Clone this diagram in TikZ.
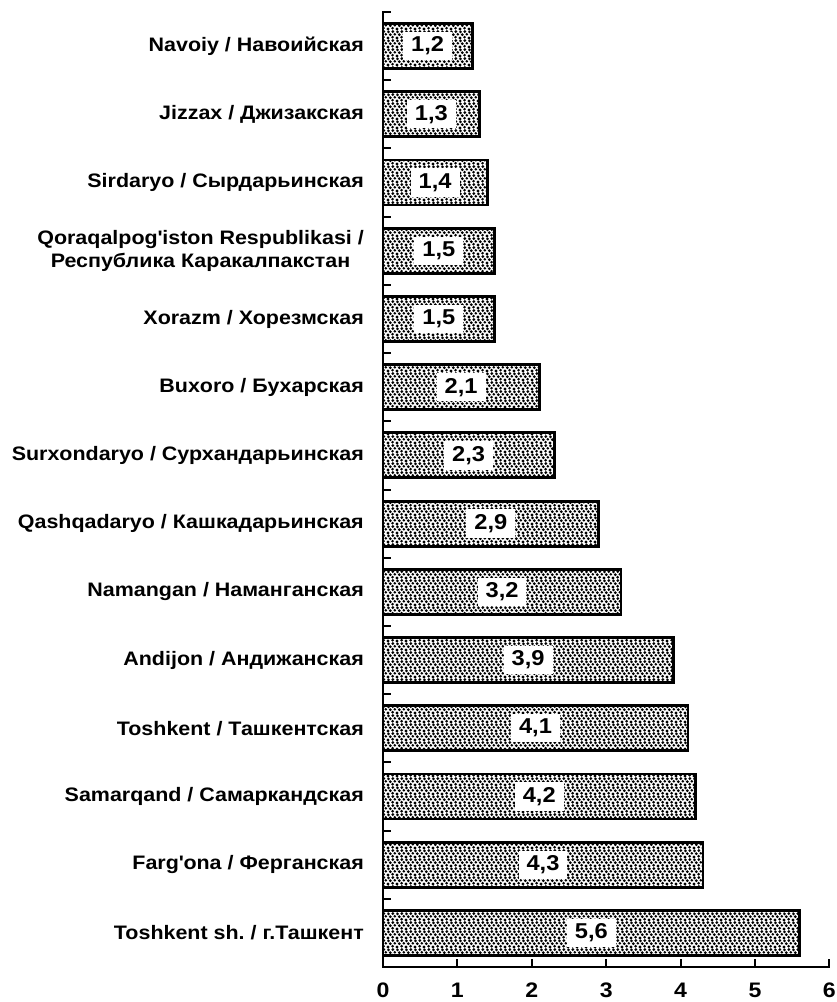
\documentclass[tikz,border=0pt]{standalone}
\usepackage{fontspec}
\setmainfont{Liberation Sans}[FakeStretch=1.1]
\usetikzlibrary{patterns}
\frenchspacing
\pgfdeclarepatternformonly{speckle}{\pgfqpoint{-2pt}{-2pt}}{\pgfqpoint{11pt}{11pt}}{\pgfqpoint{9pt}{9pt}}{%
  \pgfpathcircle{\pgfqpoint{1pt}{1pt}}{1.55pt}%
  \pgfpathcircle{\pgfqpoint{5.6pt}{1.8pt}}{1.45pt}%
  \pgfpathcircle{\pgfqpoint{3.3pt}{4.3pt}}{1.55pt}%
  \pgfpathcircle{\pgfqpoint{7.8pt}{4.7pt}}{1.45pt}%
  \pgfpathcircle{\pgfqpoint{1.5pt}{7.1pt}}{1.45pt}%
  \pgfpathcircle{\pgfqpoint{5.8pt}{7.4pt}}{1.55pt}%
  \pgfusepath{fill}}
\tikzset{
  barnode/.style={draw=black, line width=2.8pt, pattern=speckle, pattern color=black,
    anchor=west, minimum height=45pt, inner sep=0pt, outer sep=0pt},
  valbox/.style={fill=white, inner xsep=8pt, inner ysep=5pt, font=\bfseries\fontsize{21.5}{24}\selectfont},
  labtext/.style={anchor=east, align=center, inner sep=0pt, font=\bfseries\fontsize{19.5}{22.5}\selectfont},
  axisline/.style={line width=2pt, line cap=rect},
  ticknum/.style={font=\bfseries\fontsize{21}{24}\selectfont, inner sep=0pt}
}
\newcommand\mkbar[4]{%
  \pgfmathsetmacro\yc{12+68.214*(#1+0.5)}%
  \pgfmathsetmacro\bw{74.4*#2}%
  \node[barnode, minimum width=\bw pt] (bar#1) at (383,\yc) {};
  \node[valbox] (val#1) at (bar#1.center) {#3};
  \node[labtext] (lab#1) at (364,\yc) {#4};
}
\begin{document}
\begin{tikzpicture}[x=1pt,y=-1pt]
\useasboundingbox (0,0) rectangle (836,1002);
\fill[white] (0,0) rectangle (836,1002);
\mkbar{0}{1.2}{1,2}{Navoiy / Навоийская}
\mkbar{1}{1.3}{1,3}{Jizzax / Джизакская}
\mkbar{2}{1.4}{1,4}{Sirdaryo / Сырдарьинская}
\mkbar{3}{1.5}{1,5}{Qoraqalpog\textquotesingle iston Respublikasi /\\Республика Каракалпакстан}
\mkbar{4}{1.5}{1,5}{Xorazm / Хорезмская}
\mkbar{5}{2.1}{2,1}{Buxoro / Бухарская}
\mkbar{6}{2.3}{2,3}{Surxondaryo / Сурхандарьинская}
\mkbar{7}{2.9}{2,9}{Qashqadaryo / Кашкадарьинская}
\mkbar{8}{3.2}{3,2}{Namangan / Наманганская}
\mkbar{9}{3.9}{3,9}{Andijon / Андижанская}
\mkbar{10}{4.1}{4,1}{Toshkent / Ташкентская}
\mkbar{11}{4.2}{4,2}{Samarqand / Самаркандская}
\mkbar{12}{4.3}{4,3}{Farg\textquotesingle ona / Ферганская}
\mkbar{13}{5.6}{5,6}{Toshkent sh. / г.Ташкент}
% axes
\coordinate (top) at (383,12);
\coordinate (orig) at (383,967);
\coordinate (xend) at (829,967);
\draw[axisline] (top) -- (orig) -- (xend);
\foreach \i in {0,...,13}{
  \draw[line width=2pt] (383,{12+68.214*\i}) -- ++(8,0);
}
\foreach \k in {0,...,6}{
  \coordinate (xt\k) at ({383+74.4*\k},967);
  \draw[line width=2pt] (xt\k) -- ++(0,-8);
  \node[ticknum] (xn\k) at ({383+74.4*\k},990) {\k};
}
\end{tikzpicture}
\end{document}
